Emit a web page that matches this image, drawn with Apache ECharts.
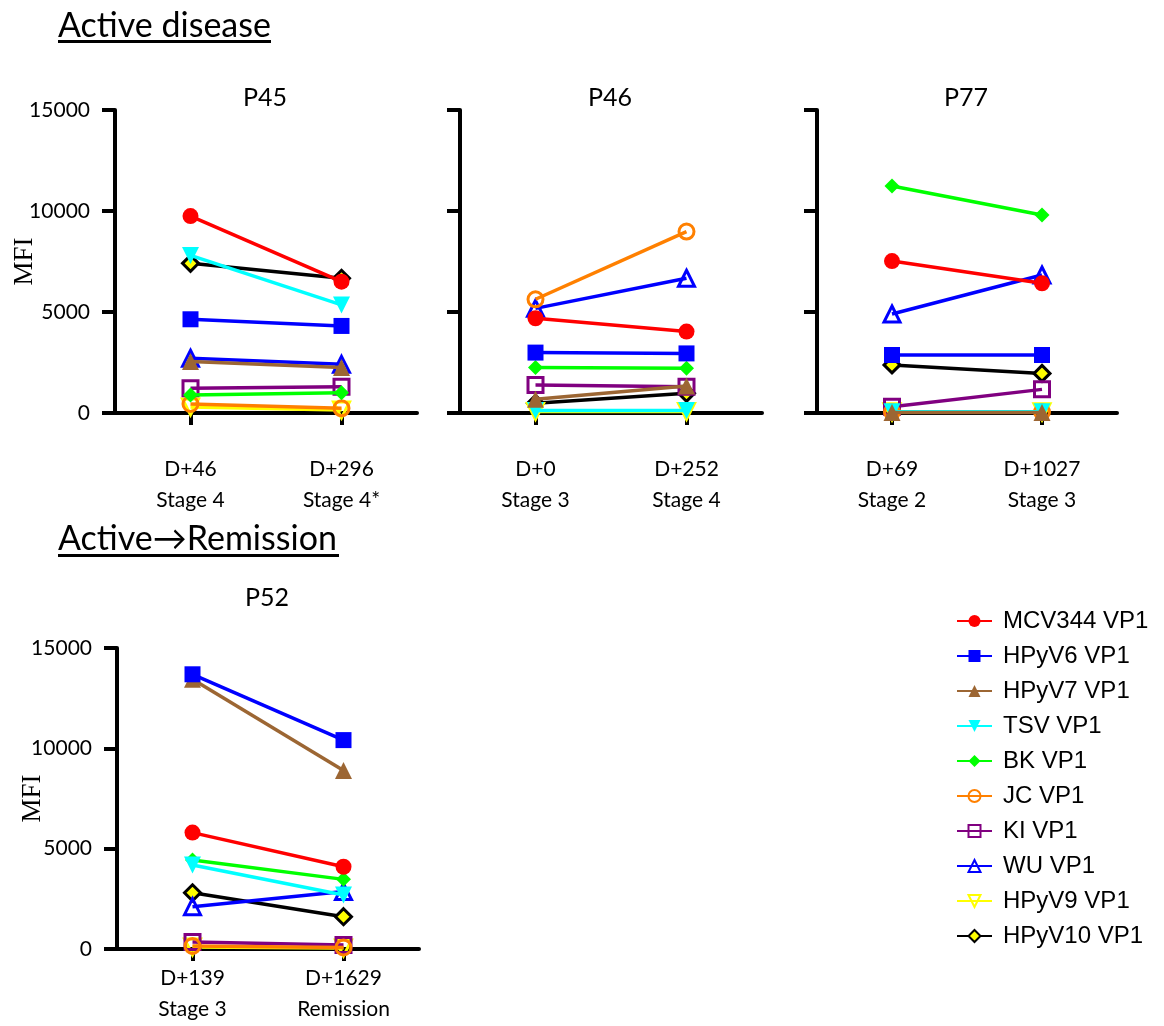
<!DOCTYPE html>
<html><head><meta charset="utf-8">
<script src="https://cdn.jsdelivr.net/npm/echarts@6/dist/echarts.min.js"></script>
<style>html,body{margin:0;padding:0;background:#fff}#c{width:1164px;height:1026px}</style>
</head><body><div id="c"></div>
<script>
const seriesNames = ['MCV344 VP1','HPyV6 VP1','HPyV7 VP1','TSV VP1','BK VP1','JC VP1','KI VP1','WU VP1','HPyV9 VP1','HPyV10 VP1'];
const panelTitles = ['P45','P46','P77','P52'];
const p45Labels = ['D+46\nStage 4','D+296\nStage 4*'];
const p46Labels = ['D+0\nStage 3','D+252\nStage 4'];
const p77Labels = ['D+69\nStage 2','D+1027\nStage 3'];
const p52Labels = ['D+139\nStage 3','D+1629\nRemission'];
const yMin = 0, yMax = 15000, yStep = 5000;
// values per series, in seriesNames order: [first visit, second visit]
const p45Values = [[9750,6500],[4640,4310],[2550,2250],[7800,5350],[890,1000],[445,230],[1220,1300],[2710,2410],[300,150],[7410,6670]];
const p46Values = [[4690,4030],[2990,2950],[680,1340],[120,120],[2250,2210],[5630,8980],[1390,1300],[5180,6670],[80,80],[480,975]];
const p77Values = [[7520,6420],[2870,2870],[30,30],[60,60],[11240,9800],[50,50],[310,1170],[4900,6830],[60,60],[2380,1960]];
const p52Values = [[5800,4100],[13690,10410],[13440,8890],[4190,2690],[4430,3470],[150,80],[350,200],[2110,2860],[100,50],[2800,1610]];

const panelLabels = [p45Labels, p46Labels, p77Labels, p52Labels];
const panelValues = [p45Values, p46Values, p77Values, p52Values];

const NONE = 'rgba(255,255,255,0)';
const styles = [
  {color:'#FF0000', symbol:'circle', size:16, fill:'#FF0000', bw:0},
  {color:'#0000FF', symbol:'rect', size:16, fill:'#0000FF', bw:0},
  {color:'#9C6633', symbol:'triangle', size:17, fill:'#9C6633', bw:0},
  {color:'#00FFFF', symbol:'triangle', size:17, fill:'#00FFFF', bw:0, rot:180},
  {color:'#00FF00', symbol:'diamond', size:15, fill:'#00FF00', bw:0},
  {color:'#FF8000', symbol:'circle', size:15, fill:NONE, bw:3},
  {color:'#800080', symbol:'rect', size:15, fill:NONE, bw:3},
  {color:'#0000FF', symbol:'triangle', size:16, fill:NONE, bw:3},
  {color:'#FFFF00', symbol:'triangle', size:16, fill:NONE, bw:3, rot:180},
  {color:'#000000', symbol:'diamond', size:16, fill:'#FFFF00', bw:3}
];

const grids = [
  {left:115, top:110, width:302, height:303, outerBoundsMode:'none'},
  {left:460, top:110, width:302, height:303, outerBoundsMode:'none'},
  {left:817, top:110, width:300, height:303, outerBoundsMode:'none'},
  {left:117, top:648, width:302, height:301, outerBoundsMode:'none'}
];
const titlePos = [[265,98],[610,98],[966,98],[267,598]];
const showYLabels = [true,false,false,true];
const nameGaps = [77,0,0,71];
const xLabelMargins = [41,41,41,14];

const FONT = 'Lato, "Open Sans", sans-serif';
const xAxes = [], yAxes = [], series = [];
grids.forEach((g,p) => {
  xAxes.push({
    gridIndex:p, type:'category', data:panelLabels[p], boundaryGap:true,
    axisLine:{show:true, lineStyle:{color:'#000', width:4}},
    axisTick:{show:true, alignWithLabel:true, length:12, lineStyle:{color:'#000', width:4}},
    axisLabel:{color:'#000', fontSize:21, fontFamily:FONT, lineHeight:31, margin:xLabelMargins[p], interval:0},
    splitLine:{show:false}
  });
  yAxes.push({
    gridIndex:p, type:'value', min:yMin, max:yMax, interval:yStep,
    name: showYLabels[p] ? 'MFI' : '', nameLocation:'middle', nameGap:nameGaps[p], nameMoveOverlap:false,
    nameTextStyle:{fontFamily:'"Liberation Serif", serif', fontSize:27, color:'#000'},
    axisLine:{show:true, lineStyle:{color:'#000', width:4}},
    axisTick:{show:true, length:13, lineStyle:{color:'#000', width:4}},
    axisLabel:{show:showYLabels[p], color:'#000', fontSize:21, fontFamily:FONT, margin:25,
      formatter: v => String(v)},
    splitLine:{show:false}
  });
  seriesNames.forEach((name,i) => {
    const st = styles[i];
    series.push({
      type:'line', name, xAxisIndex:p, yAxisIndex:p,
      data: panelValues[p][i],
      symbol: st.symbol, symbolSize: st.size, symbolRotate: st.rot || 0,
      showSymbol:true, showAllSymbol:true, z: 30 - i,
      lineStyle:{color:st.color, width:3.5},
      itemStyle:{color:st.fill, borderColor:st.color, borderWidth:st.bw},
      emphasis:{disabled:true}, animation:false
    });
  });
});

const graphics = [
  {type:'text', x:58, y:26, style:{text:'Active disease', fontSize:34, fontFamily:FONT, fill:'#000', verticalAlign:'middle'}},
  {type:'rect', shape:{x:58, y:40, width:213, height:3}, style:{fill:'#000'}},
  {type:'text', x:58, y:539, style:{text:'Active\u2192Remission', fontSize:34, fontFamily:FONT, fill:'#000', verticalAlign:'middle'}},
  {type:'rect', shape:{x:58, y:554, width:281, height:3}, style:{fill:'#000'}}
];
panelTitles.forEach((t,p) => {
  graphics.push({type:'text', x:titlePos[p][0], y:titlePos[p][1],
    style:{text:t, fontSize:25, fontFamily:FONT, fill:'#000', align:'center', verticalAlign:'middle'}});
});

const chart = echarts.init(document.getElementById('c'), null, {renderer:'canvas'});
chart.setOption({
  animation:false,
  backgroundColor:'#fff',
  grid: grids,
  xAxis: xAxes,
  yAxis: yAxes,
  series,
  legend:{
    data: seriesNames, orient:'vertical', left:951, top:604,
    itemWidth:35, itemHeight:15, itemGap:11,
    textStyle:{fontSize:24, fontFamily:'"Liberation Sans", Arial, sans-serif', color:'#000', padding:[0,0,0,6]},
    selectedMode:false
  },
  graphic: graphics
});
</script></body></html>
